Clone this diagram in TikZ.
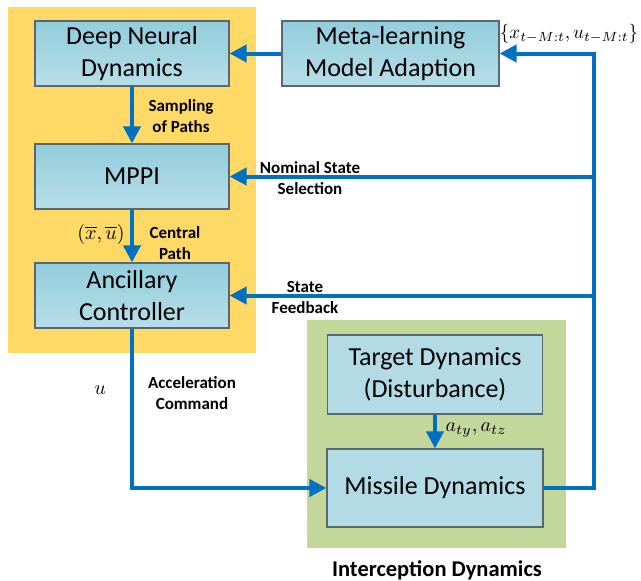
\documentclass[tikz,border=0pt]{standalone}
\usepackage{fontspec}
\setmainfont{Carlito}
\usetikzlibrary{arrows.meta}

\definecolor{panelyellow}{HTML}{FFD966}
\definecolor{panelgreen}{HTML}{C4D79B}
\definecolor{boxtop}{HTML}{92CDDC}
\definecolor{boxbot}{HTML}{B7DEE8}
\definecolor{boxflat}{HTML}{B2DBE6}
\definecolor{flowblue}{HTML}{0070C0}
\definecolor{boxline}{HTML}{5A6670}

\tikzset{
  block/.style={draw=boxline, line width=1.2pt, top color=boxtop, bottom color=boxbot,
    align=center, font=\fontsize{26}{32}\selectfont, inner sep=0pt},
  flatblock/.style={block, top color=boxflat, bottom color=boxflat},
  flow/.style={draw=flowblue, line width=4pt, -{Triangle[length=17pt,width=17pt]}},
  tag/.style={font=\fontsize{17}{21}\selectfont\bfseries, align=center},
  mathtag/.style={font=\normalsize, inner sep=1pt, transform shape, scale=2},
}

\begin{document}
\begin{tikzpicture}[x=1pt,y=-1pt]
\useasboundingbox (0,0) rectangle (641,581);
% panels
\fill[panelyellow] (8,7) rectangle (256,353);
\fill[panelgreen] (307,320) rectangle (566,548);

% blocks
\node[block, minimum width=194pt, minimum height=65pt] (dnn) at (132,53.5) {Deep Neural\\Dynamics};
\node[block, minimum width=217pt, minimum height=65pt] (meta) at (390.5,53.5) {Meta-learning\\Model Adaption};
\node[block, minimum width=194pt, minimum height=65pt] (mppi) at (132,176.5) {MPPI};
\node[block, minimum width=194pt, minimum height=65pt] (anc) at (132,295.5) {Ancillary\\Controller};
\node[flatblock, minimum width=215pt, minimum height=79pt] (tgt) at (435,374.5) {Target Dynamics\\(Disturbance)};
\node[flatblock, minimum width=216pt, minimum height=78pt] (msl) at (435,488) {Missile Dynamics};

% feedback bus
\coordinate (bus) at (594,0);

% connectors
\draw[flow] (meta.west) -- (dnn.east);
\draw[flow] (dnn.south) -- (mppi.north);
\draw[flow] (mppi.south) -- (anc.north);
\draw[flow] (tgt.south) -- (msl.north);
\draw[flow] (anc.south) |- (msl.west);
\draw[flow] (msl.east) -- (msl.east -| bus) -- (meta.east -| bus) -- (meta.east);
\draw[flow] (mppi.east -| bus) -- (mppi.east);
\draw[flow] (anc.east -| bus) -- (anc.east);

% labels
\node[tag] (lsamp) at (181,116) {Sampling\\of Paths};
\node[tag] (lcent) at (175,243) {Central\\Path};
\node[tag] (lnom) at (310,178.5) {Nominal State\\Selection};
\node[tag] (lfb) at (305,297.5) {State\\Feedback};
\node[tag] (lacc) at (192,393) {Acceleration\\Command};
\node[font=\fontsize{22.5}{26}\selectfont\bfseries] (lint) at (437,570) {Interception Dynamics};
\node[mathtag] (lxu) at (101,234) {$(\overline{x},\overline{u})$};
\node[mathtag] (lu) at (100,390) {$u$};
\node[mathtag] (lat) at (476,430) {$a_{ty},a_{tz}$};
\node[mathtag, scale=0.95] (lhist) at (569,34) {$\{x_{t-M:t},u_{t-M:t}\}$};
\end{tikzpicture}
\end{document}
